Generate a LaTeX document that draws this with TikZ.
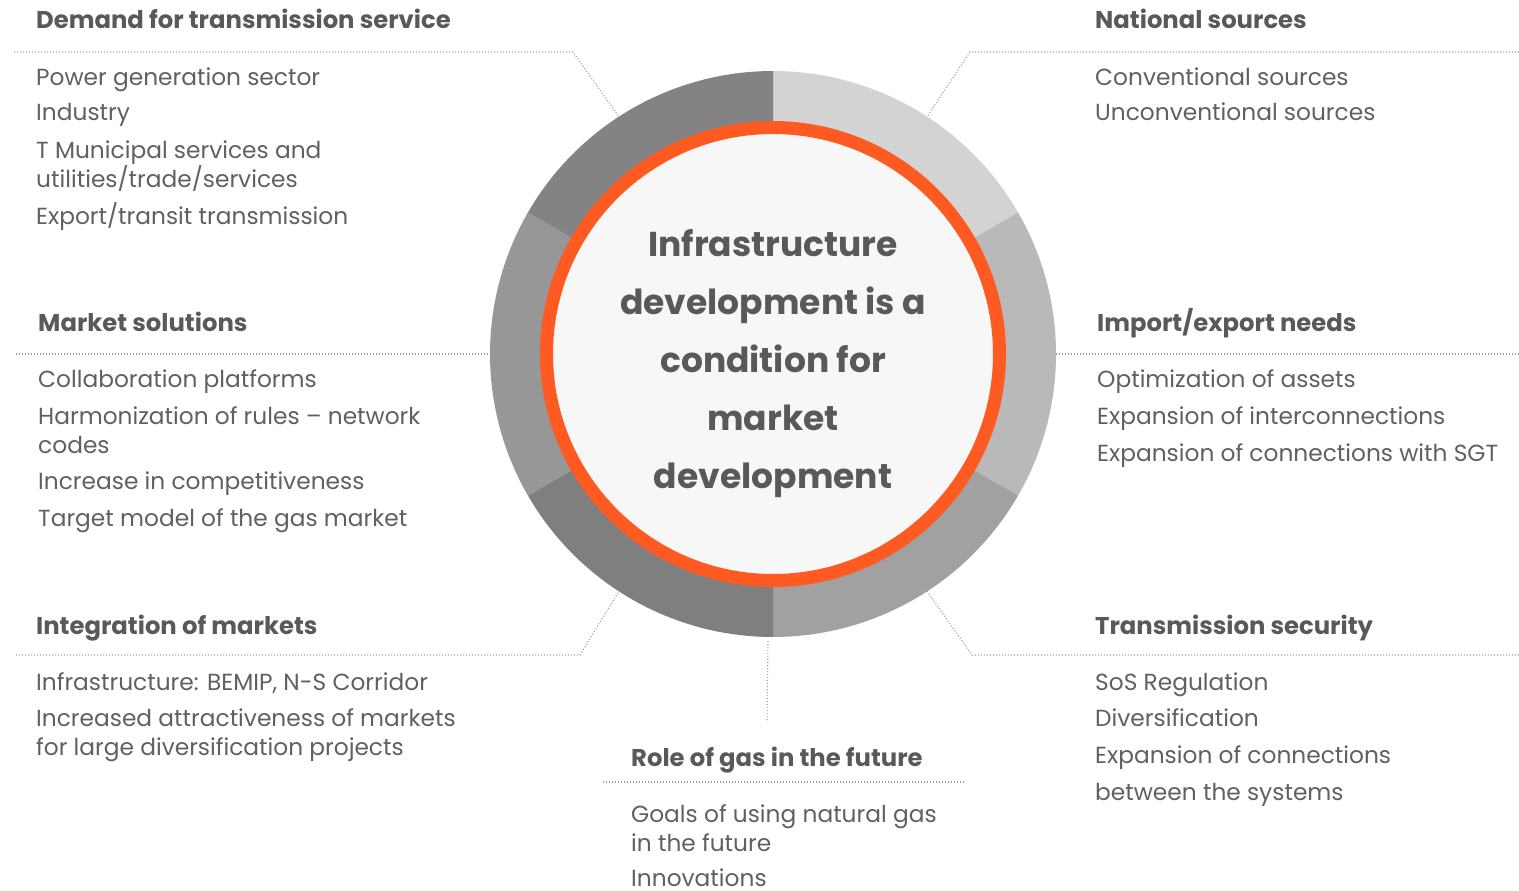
\documentclass[tikz,border=0pt]{standalone}
\usepackage{fontspec}
\setmainfont{Poppins}
\definecolor{txthead}{HTML}{595959}
\definecolor{txtbody}{HTML}{606060}
\definecolor{dotc}{HTML}{A0A0A0}
\definecolor{orng}{HTML}{FF5A22}
\definecolor{inner}{HTML}{F7F7F7}
\definecolor{sA}{HTML}{D3D3D3}
\definecolor{sB}{HTML}{B9B9B9}
\definecolor{sC}{HTML}{A1A1A1}
\definecolor{sD}{HTML}{7F7F7F}
\definecolor{sE}{HTML}{979797}
\definecolor{sF}{HTML}{838383}
\tikzset{
  head/.style={anchor=base west, inner sep=0pt, text=txthead, font=\fontsize{24.3}{28}\selectfont\bfseries},
  item/.style={anchor=base west, inner sep=0pt, text=txtbody, font=\fontsize{23.3}{28}\selectfont},
  dotline/.style={draw=dotc, line width=1.1pt, dash pattern=on 1.1pt off 1.9pt},
}
\begin{document}
\begin{tikzpicture}[x=1pt,y=-1pt]
\useasboundingbox (0,0) rectangle (1519,891);
% ring
\begin{scope}[shift={(773,354)}, yscale=-1]
  \foreach \a/\b/\c in {30/90/sA, -30/30/sB, -90/-30/sC, -150/-90/sD, 150/210/sE, 90/150/sF}{
    \fill[\c] (\a:226) arc[start angle=\a, end angle=\b, radius=226] -- (\b:283) arc[start angle=\b, end angle=\a, radius=283] -- cycle;
  }
  \fill[inner] (0,0) circle[radius=226];
  \draw[orng, line width=13pt] (0,0) circle[radius=226.5];
\end{scope}
\node[circle, minimum size=566pt, inner sep=0pt, draw=none] (ring) at (773,354) {};
\node[align=center, text=txthead, font=\fontsize{34.5}{58}\selectfont\bfseries, inner sep=0pt] (center) at (773,364) {Infrastructure\\development is a\\condition for\\market\\development};

% connectors
\coordinate (tl1) at (14,52);   \coordinate (tl2) at (573,52);
\coordinate (tr1) at (1519,52); \coordinate (tr2) at (970,52);
\coordinate (ml1) at (16,354);
\coordinate (mr1) at (1519,354);
\coordinate (bl1) at (16,655);  \coordinate (bl2) at (580,655);
\coordinate (br1) at (1519,655);\coordinate (br2) at (972,655);
\coordinate (bv1) at (768,641); \coordinate (bv2) at (767,722);
\coordinate (bh1) at (603,782); \coordinate (bh2) at (965,782);
\draw[dotline] (tl1) -- (tl2) -- (ring.123);
\draw[dotline] (tr1) -- (tr2) -- (ring.57);
\draw[dotline] (ml1) -- (ring.180);
\draw[dotline] (mr1) -- (ring.0);
\draw[dotline] (bl1) -- (bl2) -- (ring.-123);
\draw[dotline] (br1) -- (br2) -- (ring.-57);
\draw[dotline] (bv1) -- (bv2);
\draw[dotline] (bh1) -- (bh2);

% top-left
\node[head] (h1) at (36,29) {Demand for transmission service};
\node[item] (a1) at (36,85) {Power generation sector};
\node[item] (a2) at (36,121) {Industry};
\node[item] (a3) at (36,158) {T Municipal services and};
\node[item] (a4) at (36,187) {utilities/trade/services};
\node[item] (a5) at (36,224) {Export/transit transmission};
% mid-left
\node[head] (h2) at (38,331) {Market solutions};
\node[item] (b1) at (38,387) {Collaboration platforms};
\node[item] (b2) at (38,424) {Harmonization of rules – network};
\node[item] (b3) at (38,453) {codes};
\node[item] (b4) at (38,489) {Increase in competitiveness};
\node[item] (b5) at (38,526) {Target model of the gas market};
% bottom-left
\node[head] (h3) at (36,634) {Integration of markets};
\node[item] (c1) at (36,690) {Infrastructure: BEMIP, N-S Corridor};
\node[item] (c2) at (36,726) {Increased attractiveness of markets};
\node[item] (c3) at (36,755) {for large diversification projects};
% top-right
\node[head] (h4) at (1095,29) {National sources};
\node[item] (d1) at (1095,85) {Conventional sources};
\node[item] (d2) at (1095,121) {Unconventional sources};
% mid-right
\node[head] (h5) at (1097,331) {Import/export needs};
\node[item] (e1) at (1097,387) {Optimization of assets};
\node[item] (e2) at (1097,424) {Expansion of interconnections};
\node[item] (e3) at (1097,461) {Expansion of connections with SGT};
% bottom-right
\node[head] (h6) at (1095,634) {Transmission security};
\node[item] (f1) at (1095,690) {SoS Regulation};
\node[item] (f2) at (1095,726) {Diversification};
\node[item] (f3) at (1095,763) {Expansion of connections};
\node[item] (f4) at (1095,800) {between the systems};
% bottom
\node[head] (h7) at (631,766) {Role of gas in the future};
\node[item] (g1) at (631,822) {Goals of using natural gas};
\node[item] (g2) at (631,851) {in the future};
\node[item] (g3) at (631,886) {Innovations};
\end{tikzpicture}
\end{document}
